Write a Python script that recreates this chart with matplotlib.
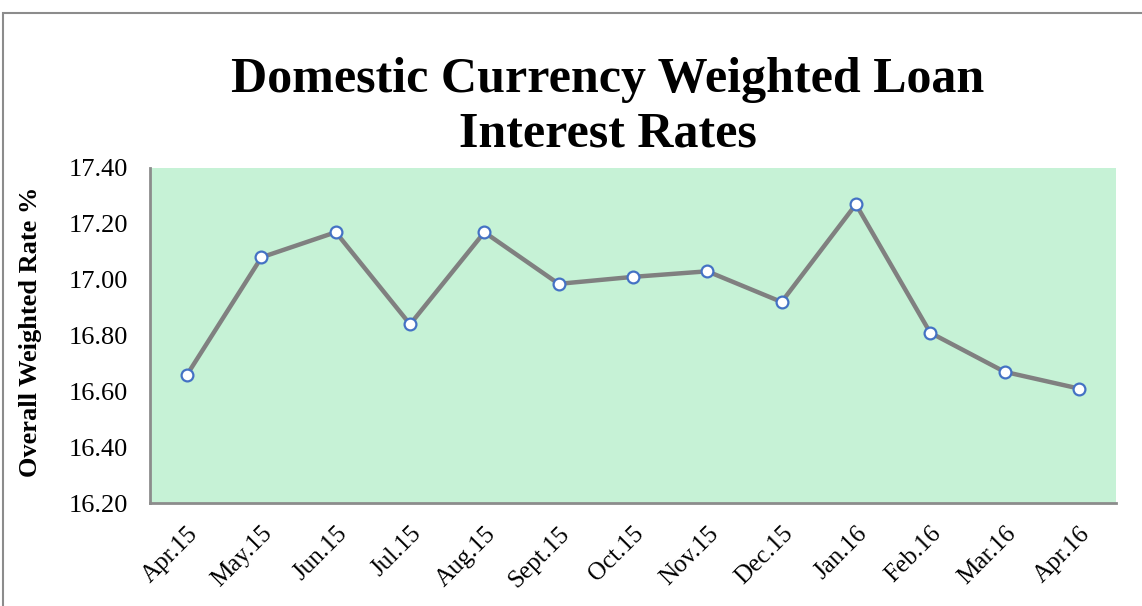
import matplotlib
matplotlib.use('Agg')
import matplotlib.pyplot as plt
from matplotlib.patches import Rectangle

months = ['Apr.15', 'May.15', 'Jun.15', 'Jul.15', 'Aug.15', 'Sept.15', 'Oct.15',
          'Nov.15', 'Dec.15', 'Jan.16', 'Feb.16', 'Mar.16', 'Apr.16']
rates = [16.66, 17.08, 17.17, 16.84, 17.17, 16.985, 17.01,
         17.03, 16.92, 17.27, 16.81, 16.67, 16.61]
y_ticks = [16.20, 16.40, 16.60, 16.80, 17.00, 17.20, 17.40]

plt.rcParams['font.family'] = ['Liberation Serif', 'DejaVu Serif']

fig = plt.figure(figsize=(11.42, 6.06), dpi=100)
axes = fig.add_axes([150 / 1142, 1 - 503 / 606, 966 / 1142, 335 / 606])

# outer chart border (only top and left visible in the crop)
fig.patches.append(Rectangle((3 / 1142, -0.1), 1.2, 1 - 13 / 606 + 0.1,
                             transform=fig.transFigure, fill=False,
                             edgecolor='#8c8c8c', linewidth=1.5))

x = list(range(len(months)))
axes.set_facecolor('#c6f2d6')
axes.plot(x, rates, color='#808080', linewidth=3.2, zorder=3,
          marker='o', markersize=8.5, markerfacecolor='white',
          markeredgecolor='#4472c4', markeredgewidth=1.6)

axes.set_xlim(-0.5, len(months) - 0.5)
axes.set_ylim(16.20, 17.40)
axes.set_yticks(y_ticks)
axes.set_yticklabels(['%.2f' % v for v in y_ticks], fontsize=19)
axes.set_xticks(x)
axes.set_xticklabels(months, fontsize=18, rotation=45, ha='right',
                     rotation_mode='anchor')
axes.tick_params(length=0, pad=14)
axes.tick_params(axis='y', pad=16)

for side in ['top', 'right']:
    axes.spines[side].set_visible(False)
for side in ['left', 'bottom']:
    axes.spines[side].set_color('#8c8c8c')
    axes.spines[side].set_linewidth(2)

axes.set_ylabel('Overall Weighted Rate %', fontsize=19, fontweight='bold')
axes.yaxis.set_label_coords(-108 / 966, 0.51)

fig.text(608 / 1142, 1 - 107 / 606, 'Domestic Currency Weighted Loan\nInterest Rates',
         ha='center', va='center', fontsize=36, fontweight='bold',
         linespacing=1.25)

fig.savefig('out.png', dpi=100)
